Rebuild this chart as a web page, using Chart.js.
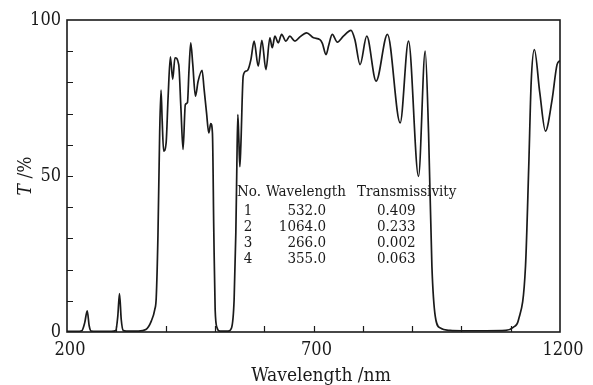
<!DOCTYPE html>
<html><head><meta charset="utf-8">
<script src="https://cdn.jsdelivr.net/npm/chart.js@4.4.1/dist/chart.umd.min.js"></script>
<style>html,body{margin:0;padding:0;background:#fff;}canvas{display:block;}</style>
</head><body>
<canvas id="c" width="593" height="385" style="width:593px;height:385px"></canvas>
<script>
// Spectrum: wavelength (nm) and transmittance T (%)
const wavelengths = [200,220,230,236,241,245,249,260,290,299,303,306.5,310,314,320,345,360,371,378,381,384.5,388,390.7,393,396,401,405,409.7,414.4,419,426.6,431,435.4,440,444.3,447.5,451,455,460.5,466,474,478,483,487.6,491.6,495,497.8,500.5,504.5,510,527,533.7,539,542.5,544.5,546.5,548.5,550.6,552.6,557.4,562.8,567,573,579.5,587.9,595.3,603.5,611.6,616.3,621.7,628.5,635.3,644,652,662.4,672.5,686,700,713,718,725.4,731,738,748.4,760.6,776,784,794.5,808,827,850,875.8,892.7,913,926.6,933.4,940.2,947,957,977,1000,1050,1090,1105,1116,1130,1136.6,1141.5,1148,1159,1170.5,1184,1194,1200];
const transmittance = [0.2,0.2,0.4,3,6.8,2,0.3,0.2,0.2,0.5,5,12.3,4,0.5,0.3,0.3,0.8,3.5,7.2,11,31,64,77.5,68,58,60.5,75,88.2,81,87.9,85.7,72,58.5,72.9,73.5,84,92.7,86,75.6,80.4,83.9,78,70.3,63.8,66.8,63.8,32,7.2,1.3,0.3,0.3,1.3,10.4,32,53,69.7,62,53,59.6,82,83.6,84,87.3,93.2,85.2,93.5,84.1,94.3,91.1,94.8,92.7,95.4,93.2,94.8,93.2,94.6,95.9,94.3,93.7,92.5,88.9,92,95.4,92.9,94.8,96.7,93.7,85.7,94.8,80.4,95.4,67,93.2,49.9,90,63.8,21,5,1.3,0.5,0.4,0.4,0.5,1.5,4,21,53,79.9,90.5,76.7,64.4,74.5,85.7,87];
const xTickLabels = [200,700,1200];
const yTickLabels = [0,50,100];
const tableHeader = ['No.','Wavelength','Transmissivity'];
const tableNo = ['1','2','3','4'];
const tableWavelength = ['532.0','1064.0','266.0','355.0'];
const tableTransmissivity = ['0.409','0.233','0.002','0.063'];

const points = wavelengths.map((w,i)=>({x:w,y:transmittance[i]}));
const SERIF = '"DejaVu Serif Condensed", "DejaVu Serif", serif';
const INK = '#1a1a1a';

const deco = {
  id:'deco',
  afterDraw(chart){
    const ctx = chart.ctx, a = chart.chartArea;
    const xs = chart.scales.x, ys = chart.scales.y;
    ctx.save();
    // inward ticks
    ctx.strokeStyle = INK; ctx.lineWidth = 1.2;
    ctx.beginPath();
    xs.ticks.forEach(t=>{
      if (t.value<=xs.min || t.value>=xs.max) return;
      const px = Math.round(xs.getPixelForValue(t.value))+0.5;
      ctx.moveTo(px,a.bottom); ctx.lineTo(px,a.bottom-6);
    });
    ys.ticks.forEach(t=>{
      if (t.value<=ys.min || t.value>=ys.max) return;
      const py = Math.round(ys.getPixelForValue(t.value))+0.5;
      ctx.moveTo(a.left,py); ctx.lineTo(a.left+6,py);
    });
    ctx.stroke();
    // frame
    ctx.lineWidth = 1.6;
    ctx.strokeRect(a.left, a.top, a.right-a.left, a.bottom-a.top);
    // axis titles
    ctx.fillStyle = INK;
    ctx.font = '19px ' + SERIF;
    ctx.textAlign = 'center'; ctx.textBaseline = 'alphabetic';
    ctx.fillText('Wavelength /nm', 321, 381);
    ctx.save();
    ctx.translate(31, 176); ctx.rotate(-Math.PI/2);
    ctx.textAlign = 'left';
    ctx.font = 'italic 19px ' + SERIF;
    const wT = ctx.measureText('T').width;
    ctx.font = '19px ' + SERIF;
    const wR = ctx.measureText(' /%').width;
    const x0 = -(wT+wR)/2;
    ctx.font = 'italic 19px ' + SERIF;
    ctx.fillText('T', x0, 0);
    ctx.font = '19px ' + SERIF;
    ctx.fillText(' /%', x0+wT, 0);
    ctx.restore();
    // table
    ctx.font = '15px ' + SERIF;
    ctx.textAlign = 'left';
    ctx.fillText(tableHeader[0], 237, 196);
    ctx.fillText(tableHeader[1], 266, 196);
    ctx.fillText(tableHeader[2], 357, 196);
    tableNo.forEach((n,i)=>{
      const by = 214.5 + i*16;
      ctx.textAlign = 'center'; ctx.fillText(n, 248, by);
      ctx.textAlign = 'right'; ctx.fillText(tableWavelength[i], 326, by);
      ctx.textAlign = 'left'; ctx.fillText(tableTransmissivity[i], 377, by);
    });
    ctx.restore();
  }
};

new Chart(document.getElementById('c'), {
  type:'line',
  data:{datasets:[{data:points, borderColor:INK, borderWidth:1.7, pointRadius:0, fill:false, cubicInterpolationMode:'monotone'}]},
  options:{
    responsive:false, animation:false, devicePixelRatio:1,
    layout:{padding:{top:20,right:33,left:0,bottom:0}},
    plugins:{legend:{display:false}, tooltip:{enabled:false}},
    scales:{
      x:{type:'linear', min:200, max:1200,
        afterFit(s){ s.height = 53; },
        grid:{display:false, drawTicks:false},
        border:{display:false},
        ticks:{stepSize:100, autoSkip:false, maxRotation:0, padding:8, labelOffset:3,
          color:INK, font:{family:SERIF, size:18},
          callback:v=> xTickLabels.includes(v) ? String(v) : ''}
      },
      y:{type:'linear', min:0, max:100,
        afterFit(s){ s.width = 67; },
        grid:{display:false, drawTicks:false},
        border:{display:false},
        ticks:{stepSize:10, autoSkip:false, padding:6,
          color:INK, font:{family:SERIF, size:18},
          callback:v=> yTickLabels.includes(v) ? String(v) : ''}
      }
    }
  },
  plugins:[deco]
});
</script>
</body></html>
